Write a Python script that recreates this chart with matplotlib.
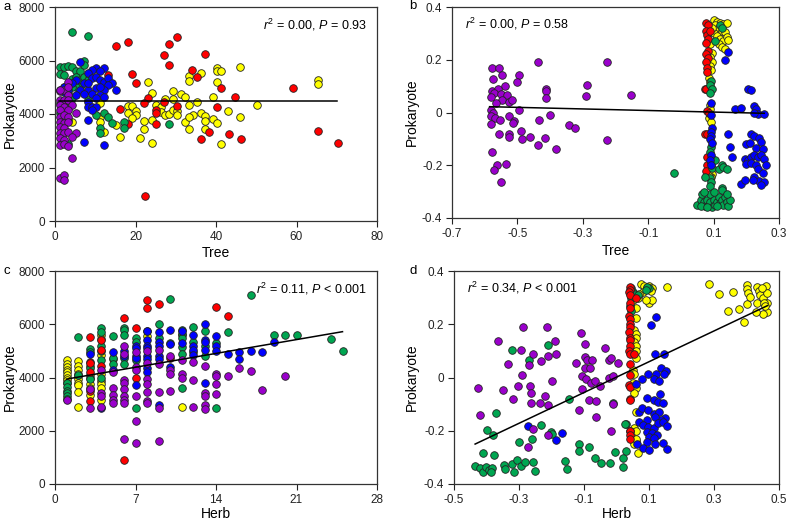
import matplotlib
matplotlib.use("Agg")
import matplotlib.pyplot as plt
import numpy as np

plt.rcParams['font.family'] = ['Liberation Sans', 'DejaVu Sans']
plt.rcParams['mathtext.fontset'] = 'custom'
plt.rcParams['mathtext.rm'] = 'Liberation Sans'
plt.rcParams['mathtext.it'] = 'Liberation Sans:italic'

COLORS = {'yellow': '#FFFF00', 'green': '#00A651', 'red': '#FF0000',
          'blue': '#0000FF', 'purple': '#9A00CC'}

# ---------------- Panel a: Tree vs Prokaryote ----------------
A_RED = [(15.25,6560),(18.2,6700),(28.2,6610),(30.25,6860),(27.1,6190),(28.2,5825),(37.25,6260),
         (19.25,5490),(20.2,5175),(13.2,5460),(34.1,5650),(35.25,5375),(41.25,4990),(23.2,4610),
         (22.2,4400),(27.1,4460),(25.2,4150),(25.2,4025),(25.2,3625),(30.25,4310),(40.25,4250),
         (44.75,4650),(59.1,4990),(16.2,4190),(18.2,3625),(36.25,3050),(38.25,3310),(43.25,3250),
         (46.25,3075),(65.25,3375),(70.25,2925),(22.25,925)]
A_YELLOW = [(23.2,5200),(33.3,5425),(33.3,5240),(36.25,5525),(40.25,5710),(40.25,5590),(41.25,5590),
            (46,5775),(40.25,5210),(65.25,5275),(65.25,5125),(24.2,4775),(29.25,4875),(31.25,4740),
            (32.25,4650),(39.25,4650),(27.25,4575),(29.25,4550),(35.25,4460),(18.25,4300),(19.2,4300),
            (25.2,4325),(26.25,4250),(26.25,4075),(27.25,3950),(28.25,4010),(29.25,4140),(30.25,4110),
            (30.25,3975),(33.3,4340),(36.25,4050),(37.25,3925),(34.25,3960),(32.25,3700),(33.3,3875),
            (39.25,3825),(40.25,3650),(37.25,3725),(37.25,3450),(33.3,3450),(18.25,4050),(20.2,4110),
            (20.2,3975),(19.2,3840),(22.2,3750),(22.2,3425),(24.2,3760),(21.2,3110),(16.2,3150),
            (15.2,3590),(24.2,2900),(41.25,2875),(43.1,4110),(46,3900),(50.25,4340),(11.25,4400),
            (11.25,3900),(11.25,3710),(12.25,3310),(4.2,3710)]
A_GREEN = [(4.2,7060),(8.25,6910),(1.25,5775),(2.25,5775),(3.25,5810),(4.25,5775),(1.25,5500),
           (2.25,5460),(5.25,5625),(6.25,5590),(7.25,5975),(7.25,5840),(4.25,5310),(5.25,5400),
           (6.25,5275),(7.25,5400),(8.25,5275),(6.25,5000),(5.25,5000),(4.25,5000),(1.25,4900),
           (3.25,4800),(4.25,4590),(2.25,4400),(3.25,4240),(1.25,4425),(3.25,3775),(3.25,2860),
           (10.25,3960),(12.25,4025),(13.25,3900),(14.25,3650),(17.25,3710),(17.25,3460),
           (11.25,3460),(11.25,3275),(28.25,3610),(8.25,4525),(1.25,4025),(2.25,5025)]
A_BLUE = [(6.25,5940),(10.25,5710),(12.25,5710),(11.25,5590),(9.25,5650),(8.25,5525),(5.25,5275),
          (7.25,5150),(9.25,5340),(10.25,5400),(11.25,5275),(12.25,5210),(13.25,5340),(14.25,5150),
          (13.25,5090),(4.25,5150),(2.25,5025),(3.25,4900),(6.25,4900),(8.25,4900),(10.25,4960),
          (12.25,4900),(15.25,4900),(5.25,4710),(7.25,4750),(9.25,4750),(11.25,4710),(12.25,4625),
          (10.25,4590),(8.25,4460),(8.25,4275),(9.25,4250),(10.25,4275),(9.25,4150),(8.25,3775),
          (7.25,2950),(12.25,2825),(2.25,4840),(11.25,5025),(8.25,5150)]
A_PURPLE = [(3.25,5190),(1.25,4875),(2.25,4900),(3.25,4710),(1.25,4525),(2.25,4525),(3.25,4525),
            (1.25,4340),(2.25,4275),(4.25,4340),(1.25,4150),(3.25,4150),(1.25,3900),(2.25,3960),
            (3.25,3900),(1.25,3710),(2.25,3650),(3.25,3710),(1.25,3525),(2.25,3460),(1.25,3275),
            (2.25,3275),(3.25,3310),(5.25,3275),(5.25,4025),(1.25,3090),(2.25,3025),(4.25,3125),
            (1.25,2825),(2.25,2875),(3.25,2810),(4.25,2350),(1.25,1610),(2.25,1725),(2.25,1525),
            (1.25,4900),(3.25,5000)]

# ---------------- Panel b: Tree (PCoA) vs Prokaryote ----------------
B_RED = [(0.078,0.34),(0.082,0.33),(0.076,0.31),(0.079,0.295),(0.084,0.28),(0.078,0.265),(0.082,0.235),
         (0.078,0.22),(0.083,0.205),(0.077,0.19),(0.081,0.17),(0.079,0.155),(0.074,0.09),(0.078,0.088),
         (0.080,0.005),(0.085,0.0),(0.073,-0.08),(0.080,-0.082),(0.079,-0.17),(0.081,-0.2),
         (0.078,-0.22),(0.09,0.31)]
B_YELLOW = [(0.10,0.35),(0.11,0.345),(0.12,0.34),(0.13,0.335),(0.14,0.34),(0.105,0.33),(0.115,0.32),
            (0.125,0.31),(0.135,0.305),(0.10,0.30),(0.11,0.29),(0.12,0.28),(0.13,0.27),(0.14,0.285),
            (0.145,0.275),(0.115,0.26),(0.125,0.25),(0.135,0.24),(0.095,0.32),(0.09,0.26),
            (0.095,0.225),(0.09,0.21),(0.095,0.19),(0.088,0.175),(0.093,0.16),(0.085,0.13),
            (0.09,0.115),(0.088,0.03),(0.09,0.015),(0.085,-0.02),(0.092,-0.035),(0.089,-0.22),
            (0.094,-0.235),(0.092,-0.245),(0.087,-0.24)]
B_GREEN = [(0.12,0.33),(0.125,0.32),(0.105,0.27),(0.093,0.12),(0.09,0.105),(0.094,0.09),(0.09,0.075),
           (0.092,-0.13),(0.09,-0.15),(0.094,-0.175),(0.091,-0.19),(0.095,-0.21),(0.088,-0.25),
           (0.092,-0.265),(0.09,-0.28),(0.105,-0.18),(0.115,-0.215),(0.125,-0.2),(0.13,-0.205),
           (0.14,-0.215),(0.125,-0.285),(0.125,-0.295),(-0.02,-0.23),(0.075,-0.245),
           (0.05,-0.35),(0.06,-0.33),(0.065,-0.31),(0.07,-0.34),(0.075,-0.355),(0.08,-0.33),
           (0.085,-0.35),(0.09,-0.31),(0.09,-0.34),(0.095,-0.36),(0.10,-0.33),(0.105,-0.35),
           (0.11,-0.34),(0.115,-0.32),(0.12,-0.345),(0.125,-0.33),(0.13,-0.35),(0.135,-0.32),
           (0.14,-0.34),(0.145,-0.355),(0.15,-0.33),(0.06,-0.355),(0.07,-0.30),(0.10,-0.30),
           (0.14,-0.31),(0.11,-0.355),(0.08,-0.36)]
B_BLUE = [(0.093,0.035),(0.092,-0.01),(0.094,-0.06),(0.091,-0.075),(0.093,-0.09),(0.09,-0.10),
          (0.094,-0.115),(0.092,-0.16),(0.09,-0.18),(0.093,-0.20),
          (0.145,0.23),(0.135,0.20),(0.205,0.09),(0.215,0.085),(0.165,0.012),(0.185,0.018),
          (0.225,0.025),(0.23,0.012),(0.235,-0.005),(0.255,-0.005),(0.225,0.0),(0.145,-0.08),
          (0.15,-0.13),(0.155,-0.17),(0.215,-0.08),(0.225,-0.09),(0.24,-0.095),(0.245,-0.11),
          (0.20,-0.12),(0.21,-0.115),(0.23,-0.135),(0.25,-0.14),(0.195,-0.175),(0.205,-0.18),
          (0.215,-0.17),(0.225,-0.16),(0.235,-0.17),(0.245,-0.16),(0.255,-0.175),(0.20,-0.195),
          (0.215,-0.19),(0.23,-0.20),(0.26,-0.20),(0.235,-0.215),(0.25,-0.23),(0.225,-0.245),
          (0.24,-0.26),(0.255,-0.265),(0.245,-0.275),(0.185,-0.27),(0.195,-0.255),(0.22,-0.255)]
B_PURPLE = [(-0.579,0.170),(-0.555,0.169),(-0.438,0.191),(-0.226,0.191),(-0.576,0.128),(-0.547,0.141),
            (-0.494,0.142),(-0.501,0.116),(-0.537,0.102),(-0.288,0.105),(-0.579,0.083),(-0.559,0.088),
            (-0.573,0.073),(-0.549,0.069),(-0.532,0.068),(-0.413,0.089),(-0.413,0.081),(-0.581,0.060),
            (-0.547,0.049),(-0.525,0.041),(-0.517,0.047),(-0.565,0.037),(-0.412,0.054),(-0.290,0.062),
            (-0.154,0.066),(-0.496,0.011),(-0.580,0.010),(-0.575,0.0),(-0.580,-0.013),(-0.567,-0.022),
            (-0.552,-0.028),(-0.525,-0.015),(-0.511,-0.033),(-0.514,-0.040),(-0.580,-0.043),
            (-0.401,-0.008),(-0.433,-0.030),(-0.343,-0.047),(-0.325,-0.057),(-0.489,-0.070),
            (-0.555,-0.081),(-0.525,-0.080),(-0.525,-0.094),(-0.486,-0.102),(-0.462,-0.094),
            (-0.415,-0.098),(-0.436,-0.124),(-0.382,-0.138),(-0.225,-0.103),(-0.577,-0.150),
            (-0.561,-0.200),(-0.573,-0.218),(-0.536,-0.195),(-0.549,-0.264)]

# ---------------- Panel c: Herb vs Prokaryote ----------------
C_YELLOW = [(1,4650),(1,4500),(1,4400),(1,4300),(1,4200),(1,4100),(1,4000),(1,3900),(2,4620),(2,4450),
            (2,4300),(2,4150),(2,4050),(2,3950),(2,3800),(2,3700),(2,3450),(2,2900),(3,4450),(3,3750),
            (3,3600),(3,3350),(4,5600),(4,5450),(4,4850),(4,4150),(4,3850),(4,3750),(4,3600),(4,3150),
            (5,4700),(8,5550),(11,5600),(11,2900),(3,4100),(1,3800)]
C_GREEN = [(1,3800),(1,3650),(1,3500),(1,3400),(1,3300),(1,3200),(2,5530),(2,4100),(3,5080),(3,4950),
           (3,4350),(3,4000),(3,3950),(4,5850),(4,5700),(4,5200),(4,5000),(4,4650),(4,4000),(5,5550),
           (5,4750),(5,4500),(6,5850),(6,5800),(6,5600),(6,4750),(6,4500),(7,5500),(7,5350),(7,4650),
           (7,2850),(8,5750),(9,6000),(9,5500),(10,6950),(10,5300),(11,5800),(11,5650),(11,5500),
           (11,5150),(11,4900),(11,3600),(12,5900),(12,5350),(12,4950),(13,5750),(13,5200),(13,4800),
           (14,5300),(14,2850),(15,5700),(17,7100),(19,5600),(20,5600),(21,5600),(24,5450),(25,5000)]
C_RED = [(3,5520),(3,4600),(3,4550),(3,4200),(3,3500),(3,3100),(4,5400),(4,4450),(6,6230),(6,900),
         (7,5850),(7,4000),(8,6900),(8,6620),(9,6750),(14,6650),(15,6300),(4,5050),(10,4750)]
C_BLUE = [(3,4900),(4,2850),(5,4950),(5,4300),(6,5000),(6,4800),(7,5200),(7,5100),(7,4800),(7,4750),
          (7,3700),(8,5750),(8,5400),(8,5200),(8,5100),(8,4800),(8,4700),(8,4350),(8,4200),(9,5700),
          (9,5350),(9,5200),(9,4800),(9,4700),(9,2950),(10,5800),(10,5250),(10,4400),(11,5750),
          (11,5300),(12,5600),(12,5200),(12,5050),(12,4850),(13,6000),(13,5400),(13,5350),(13,5050),
          (13,3800),(14,5570),(14,5180),(14,5000),(15,4870),(16,4950),(16,4700),(17,4995),(18,4970),
          (19,5350)]
C_PURPLE = [(1,3150),(3,3550),(3,2850),(4,4300),(4,3400),(4,3300),(4,2900),(5,4200),(5,3600),(5,3350),
            (5,3150),(5,3050),(6,5200),(6,4900),(6,3900),(6,3800),(6,3550),(6,3300),(6,3150),(6,3050),
            (6,1700),(7,4950),(7,4400),(7,4300),(7,3300),(7,2350),(7,1550),(8,5000),(8,4550),(8,3950),
            (8,3750),(8,3450),(8,3100),(8,3050),(9,5050),(9,4500),(9,3450),(9,2850),(9,1600),(10,4800),
            (10,4300),(10,4150),(10,3500),(11,4650),(11,4150),(11,4000),(12,4600),(12,3900),(12,2900),
            (13,4450),(13,3400),(13,3300),(13,2950),(13,2800),(14,4120),(14,4070),(14,3740),(14,3390),
            (15,4070),(16,4345),(17,4245),(18,3530),(20,4070)]

# ---------------- Panel d: Herb (PCoA) vs Prokaryote ----------------
D_YELLOW = [(0.05,0.29),(0.06,0.26),(0.06,0.225),(0.055,0.18),(0.06,0.165),(0.06,0.15),(0.055,0.135),
            (0.06,0.12),(0.06,0.10),(0.06,0.075),(0.05,0.03),(0.055,0.015),(0.05,-0.02),(0.06,-0.04),
            (0.055,-0.06),(0.06,-0.13),(0.055,-0.19),(0.06,-0.20),(0.045,-0.22),(0.05,-0.235),
            (0.06,-0.24),(0.055,-0.25),(0.065,-0.285),(0.06,-0.23),
            (0.075,0.35),(0.085,0.345),(0.095,0.335),(0.10,0.345),(0.11,0.335),(0.105,0.325),
            (0.08,0.32),(0.10,0.28),(0.11,0.29),(0.09,0.29),(0.065,0.30),(0.07,0.315),(0.155,0.34),
            (0.286,0.350),(0.314,0.312),(0.357,0.322),(0.342,0.250),(0.376,0.257),(0.393,0.207),
            (0.401,0.275),(0.403,0.347),(0.403,0.331),(0.406,0.316),(0.411,0.303),(0.431,0.339),
            (0.431,0.278),(0.439,0.326),(0.441,0.310),(0.451,0.297),(0.460,0.343),(0.462,0.316),
            (0.464,0.278),(0.464,0.247),(0.450,0.238),(0.429,0.247),(0.454,0.280),(0.447,0.335),
            (0.458,0.269)]
D_GREEN = [(0.045,0.335),(0.05,0.32),(0.055,0.315),(0.045,0.30),(0.04,0.27),(0.045,0.25),(0.065,0.31),
           (0.10,0.335),(0.095,0.34),(0.09,0.33),(0.03,-0.175),(0.04,-0.20),
           (-0.323,0.103),(-0.211,0.121),(-0.270,0.065),(-0.370,-0.133),(-0.145,-0.082),(-0.400,-0.196),
           (-0.379,-0.216),(-0.233,-0.179),(-0.203,-0.205),(-0.197,-0.212),(-0.301,-0.244),
           (-0.260,-0.230),(-0.410,-0.285),(-0.378,-0.291),(-0.434,-0.333),(-0.419,-0.341),
           (-0.412,-0.354),(-0.403,-0.335),(-0.393,-0.348),(-0.382,-0.341),(-0.387,-0.354),
           (-0.346,-0.328),(-0.344,-0.344),(-0.321,-0.325),(-0.316,-0.356),(-0.307,-0.310),
           (-0.293,-0.331),(-0.283,-0.319),(-0.256,-0.318),(-0.250,-0.353),(-0.157,-0.312),
           (-0.152,-0.345),(-0.116,-0.251),(-0.115,-0.276),(-0.085,-0.261),(-0.067,-0.302),
           (-0.049,-0.323),(-0.021,-0.323),(-0.005,-0.280),(0.021,-0.304),(0.019,-0.335),
           (0.029,-0.276),(0.027,-0.175),(-0.011,-0.097)]
D_RED = [(0.04,0.34),(0.042,0.33),(0.038,0.32),(0.041,0.31),(0.04,0.28),(0.042,0.26),(0.039,0.23),
         (0.041,0.22),(0.04,0.20),(0.042,0.19),(0.039,0.17),(0.041,0.15),(0.04,0.14),(0.042,0.12),
         (0.039,0.10),(0.041,0.09),(0.055,0.09),(0.04,0.05),(0.041,0.01),(0.039,-0.03),
         (0.042,-0.035),(0.04,-0.08),(0.041,-0.085),(0.04,-0.20),(0.042,-0.215),(0.04,-0.23),
         (0.06,0.30)]
D_BLUE = [(-0.271,-0.182),(-0.185,-0.235),(-0.168,-0.210),
          (0.121,0.229),(0.107,0.198),(0.119,0.088),(0.146,0.087),(0.136,0.034),(0.152,0.025),
          (0.096,0.013),(0.121,0.012),(0.146,0.015),(0.078,-0.007),(0.114,-0.006),(0.132,-0.013),
          (0.059,-0.026),(0.134,-0.063),(0.093,-0.078),(0.114,-0.085),(0.129,-0.091),(0.144,-0.097),
          (0.068,-0.128),(0.078,-0.116),(0.098,-0.122),(0.114,-0.138),(0.132,-0.128),(0.150,-0.153),
          (0.136,-0.160),(0.119,-0.147),(0.093,-0.160),(0.068,-0.166),(0.083,-0.178),(0.098,-0.185),
          (0.114,-0.188),(0.129,-0.172),(0.144,-0.166),(0.154,-0.181),(0.093,-0.203),(0.108,-0.210),
          (0.124,-0.216),(0.100,-0.222),(0.116,-0.226),(0.093,-0.241),(0.119,-0.251),(0.063,-0.251),
          (0.083,-0.266),(0.099,-0.272),(0.154,-0.270),(0.144,-0.247)]
D_PURPLE = [(-0.365,0.138),(-0.287,0.190),(-0.215,0.190),(-0.293,0.103),(-0.257,0.087),(-0.189,0.138),
            (-0.335,0.049),(-0.231,0.062),(-0.212,0.082),(-0.186,0.088),(-0.268,0.047),(-0.292,0.009),
            (-0.200,-0.015),(-0.426,-0.040),(-0.349,-0.048),(-0.303,-0.031),(-0.317,-0.081),
            (-0.265,-0.031),(-0.262,-0.058),(-0.235,-0.094),(-0.221,-0.070),(-0.210,-0.105),
            (-0.263,-0.094),(-0.419,-0.139),(-0.256,-0.192),(-0.211,-0.216),(-0.272,-0.260),
            (-0.109,0.168),(-0.097,0.127),(-0.036,0.112),(-0.097,0.078),(-0.091,0.065),(-0.075,0.065),
            (-0.125,0.053),(-0.096,0.037),(-0.081,0.037),(-0.024,0.065),(-0.016,0.075),(0.006,0.055),
            (-0.105,0.005),(-0.094,-0.007),(-0.078,-0.022),(-0.065,-0.013),(-0.107,-0.045),
            (-0.050,-0.031),(-0.022,-0.003),(-0.011,0.005),(-0.085,-0.083),(-0.063,-0.090),
            (-0.114,-0.123),(-0.063,-0.150),(-0.011,-0.101),(-0.016,-0.200)]

# regression lines: (slope, intercept, x_start, x_end)
FIT_A = (0.0, 4480.0, 1.0, 70.0)
FIT_B = (-0.0298, 0.0046, -0.585, 0.255)
FIT_C = (74.2, 3866.0, 1.0, 25.0)
FIT_D = (0.578, 0.0014, -0.435, 0.465)

STATS = ['$\\it{r}^{2}$ = 0.00, $\\it{P}$ = 0.93',
         '$\\it{r}^{2}$ = 0.00, $\\it{P}$ = 0.58',
         '$\\it{r}^{2}$ = 0.11, $\\it{P}$ < 0.001',
         '$\\it{r}^{2}$ = 0.34, $\\it{P}$ < 0.001']

W, H = 787, 521
fig = plt.figure(figsize=(W / 100, H / 100), dpi=100)

def ax_at(l, t, r, b):
    return fig.add_axes([l / W, 1 - b / H, (r - l) / W, (b - t) / H])

axA = ax_at(55, 7, 377, 221)
axB = ax_at(452, 7, 779, 218)
axC = ax_at(55, 271, 377, 484)
axD = ax_at(454, 271, 779, 484)

panels = [
    (axA, [('yellow', A_YELLOW), ('red', A_RED), ('green', A_GREEN), ('blue', A_BLUE), ('purple', A_PURPLE)],
     FIT_A, (0, 80), (0, 8000), [0, 20, 40, 60, 80], [0, 2000, 4000, 6000, 8000], 'Tree', 'a'),
    (axB, [('yellow', B_YELLOW), ('red', B_RED), ('green', B_GREEN), ('blue', B_BLUE), ('purple', B_PURPLE)],
     FIT_B, (-0.7, 0.3), (-0.4, 0.4), [-0.7, -0.5, -0.3, -0.1, 0.1, 0.3], [-0.4, -0.2, 0, 0.2, 0.4], 'Tree', 'b'),
    (axC, [('yellow', C_YELLOW), ('green', C_GREEN), ('red', C_RED), ('blue', C_BLUE), ('purple', C_PURPLE)],
     FIT_C, (0, 28), (0, 8000), [0, 7, 14, 21, 28], [0, 2000, 4000, 6000, 8000], 'Herb', 'c'),
    (axD, [('yellow', D_YELLOW), ('green', D_GREEN), ('red', D_RED), ('blue', D_BLUE), ('purple', D_PURPLE)],
     FIT_D, (-0.5, 0.5), (-0.4, 0.4), [-0.5, -0.3, -0.1, 0.1, 0.3, 0.5], [-0.4, -0.2, 0, 0.2, 0.4], 'Herb', 'd'),
]

# pixel centres of the axis labels (x centre of y label, y centre of x label)
YLAB_X = [10, 412, 10, 412]
XLAB_Y = [253, 251, 514, 514]

def fmt(v):
    if abs(v) < 1e-12:
        return '0'
    if float(v).is_integer():
        return str(int(v))
    return ('%g' % v)

for i, (ax, groups, fit, xl, yl, xt, yt, xlab, letter) in enumerate(panels):
    for cname, pts in groups:
        arr = np.array(pts)
        ax.scatter(arr[:, 0], arr[:, 1], s=30, c=COLORS[cname], edgecolors='#222222',
                   linewidths=0.6, zorder=3, clip_on=False)
    slope, inter, x0, x1 = fit
    xs = np.array([x0, x1])
    ax.plot(xs, slope * xs + inter, color='black', lw=1.1, zorder=4)
    ax.set_xlim(*xl)
    ax.set_ylim(*yl)
    ax.set_xticks(xt)
    ax.set_xticklabels([fmt(v) for v in xt])
    ax.set_yticks(yt)
    ax.set_yticklabels([fmt(v) for v in yt])
    ax.tick_params(direction='out', length=4, width=0.8, labelsize=8.5, pad=3, colors='#222222')
    for sp in ax.spines.values():
        sp.set_linewidth(0.9)
        sp.set_color('#333333')
    ax.set_xlabel(xlab, fontsize=10, va='center')
    ax.set_ylabel('Prokaryote', fontsize=10, va='center')
    bb = ax.get_position()
    ax_l, ax_b = bb.x0 * W, (1 - bb.y0) * H
    ax_w, ax_h = bb.width * W, bb.height * H
    ax.yaxis.set_label_coords(-(ax_l - YLAB_X[i]) / ax_w, 0.5)
    ax.xaxis.set_label_coords(0.5, -(XLAB_Y[i] - ax_b) / ax_h)
    if letter in ('a', 'c'):
        ax.text(0.97, 0.915, STATS[i], transform=ax.transAxes, ha='right', va='center', fontsize=9)
    else:
        ax.text(0.04, 0.92, STATS[i], transform=ax.transAxes, ha='left', va='center', fontsize=9)

fig.text(3 / W, 1 - 7 / H, 'a', fontsize=9.5, va='center', ha='left')
fig.text(409 / W, 1 - 6 / H, 'b', fontsize=9.5, va='center', ha='left')
fig.text(4 / W, 1 - 271 / H, 'c', fontsize=9.5, va='center', ha='left')
fig.text(409 / W, 1 - 271 / H, 'd', fontsize=9.5, va='center', ha='left')

fig.savefig('out.png', dpi=100)
